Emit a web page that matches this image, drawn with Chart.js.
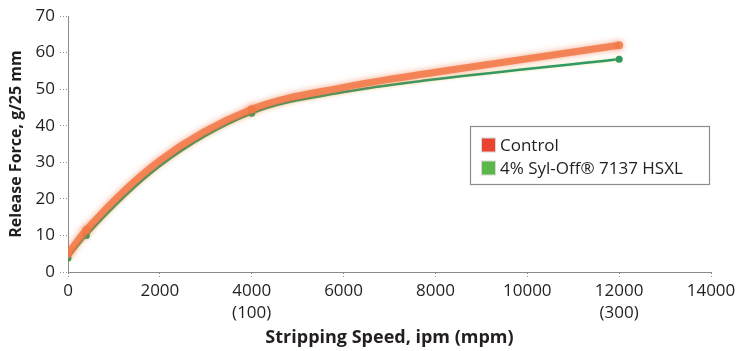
<!DOCTYPE html>
<html>
<head>
<meta charset="utf-8">
<script src="https://cdn.jsdelivr.net/npm/chart.js@4"></script>
<style>
  html, body { margin: 0; padding: 0; background: #fff; }
  #wrap { width: 751px; height: 351px; }
</style>
</head>
<body>
<div id="wrap"><canvas id="chart" width="751" height="351"></canvas></div>
<script>
// values
const speeds = [0, 400, 2000, 4000, 6000, 8000, 12000];
const controlForce = [5, 11.5, 30.5, 44.5, 50.5, 54.6, 62];
const sylOffForce = [3.8, 10, 29, 43.4, 49.2, 52.7, 58.2];
const markedSpeeds = [0, 400, 4000, 12000];
const seriesNames = ['Control', '4% Syl-Off® 7137 HSXL'];
const xTicks = [0, 2000, 4000, 6000, 8000, 10000, 12000, 14000];
const mpmLabels = { 4000: '(100)', 12000: '(300)' };

const FONT = '"Open Sans", sans-serif';
const TEXT = '#231f20';
const AXIS = '#8a8a8a';
const CONTROL_LINE = 'rgba(242, 120, 70, 0.85)';
const SYL_LINE = '#2f9a68';
const CONTROL_KEY = '#ea4430';
const SYL_KEY = '#5cb848';

const toPoints = ys => speeds.map((x, i) => ({ x, y: ys[i] }));
const markRadius = r => ctx => markedSpeeds.includes(speeds[ctx.dataIndex]) ? r : 0;

// soft halo round the lines, the original looks blurred
const softLines = {
  id: 'softLines',
  beforeDatasetDraw(chart, args) {
    const c = chart.ctx;
    c.save();
    c.shadowColor = args.index === 0 ? 'rgba(240, 110, 60, 0.7)' : 'rgba(230, 220, 90, 0.6)';
    c.shadowBlur = args.index === 0 ? 6 : 3;
  },
  afterDatasetDraw(chart) {
    chart.ctx.restore();
  }
};

// legend box sitting inside the plot, like the original
const boxLegend = {
  id: 'boxLegend',
  afterDraw(chart) {
    const c = chart.ctx;
    const keys = [CONTROL_KEY, SYL_KEY];
    c.save();
    c.fillStyle = '#fff';
    c.fillRect(470, 126, 239, 58);
    c.strokeStyle = '#8c8c8c';
    c.lineWidth = 1.2;
    c.strokeRect(470.5, 126.5, 239, 58);
    c.font = '17px ' + FONT;
    c.textBaseline = 'middle';
    seriesNames.forEach((name, i) => {
      const y = 145 + i * 23;
      c.fillStyle = '#d8d8d8';
      c.fillRect(481, y - 7.5, 15, 15);
      c.fillStyle = keys[i];
      c.fillRect(482, y - 6.5, 13, 13);
      c.fillStyle = TEXT;
      c.fillText(name, 500, y + 1);
    });
    c.restore();
  }
};

new Chart(document.getElementById('chart'), {
  type: 'line',
  data: {
    datasets: [
      {
        label: seriesNames[0],
        data: toPoints(controlForce),
        borderColor: CONTROL_LINE,
        backgroundColor: CONTROL_LINE,
        borderWidth: 7,
        pointRadius: markRadius(4),
        pointBorderWidth: 0,
        cubicInterpolationMode: 'monotone',
      },
      {
        label: seriesNames[1],
        data: toPoints(sylOffForce),
        borderColor: SYL_LINE,
        backgroundColor: SYL_LINE,
        borderWidth: 2.5,
        pointRadius: markRadius(3.5),
        pointBorderWidth: 0,
        cubicInterpolationMode: 'monotone',
      },
    ],
  },
  options: {
    responsive: false,
    animation: false,
    layout: { padding: { top: 16, right: 40, left: 0, bottom: 0 } },
    plugins: { legend: { display: false }, tooltip: { enabled: false } },
    scales: {
      x: {
        type: 'linear',
        min: 0,
        max: 14000,
        afterBuildTicks: axis => { axis.ticks = xTicks.map(value => ({ value })); },
        afterFit: axis => { axis.height = 79; },
        ticks: {
          color: TEXT,
          font: { family: FONT, size: 17, lineHeight: 1.3 },
          padding: 2,
          maxRotation: 0,
          callback: v => mpmLabels[v] ? [String(v), mpmLabels[v]] : String(v),
        },
        grid: { drawOnChartArea: false, tickLength: 6, color: AXIS, tickBorderDash: [1, 2] },
        border: { color: AXIS, dash: [1, 2] },
        title: {
          display: true,
          text: 'Stripping Speed, ipm (mpm)',
          color: TEXT,
          font: { family: FONT, size: 18, weight: 'bold' },
          padding: { top: 0, bottom: 2 },
        },
      },
      y: {
        min: 0,
        max: 70,
        afterFit: axis => { axis.width = 68; },
        ticks: {
          stepSize: 10,
          color: TEXT,
          font: { family: FONT, size: 17 },
          padding: 5,
        },
        grid: { drawOnChartArea: false, tickLength: 8, color: AXIS, tickBorderDash: [1, 2] },
        border: { color: AXIS, dash: [1, 2] },
        title: {
          display: true,
          text: 'Release Force, g/25 mm',
          color: TEXT,
          font: { family: FONT, size: 16, weight: 'bold' },
          padding: { top: 7, bottom: 0 },
        },
      },
    },
  },
  plugins: [softLines, boxLegend],
});
</script>
</body>
</html>
